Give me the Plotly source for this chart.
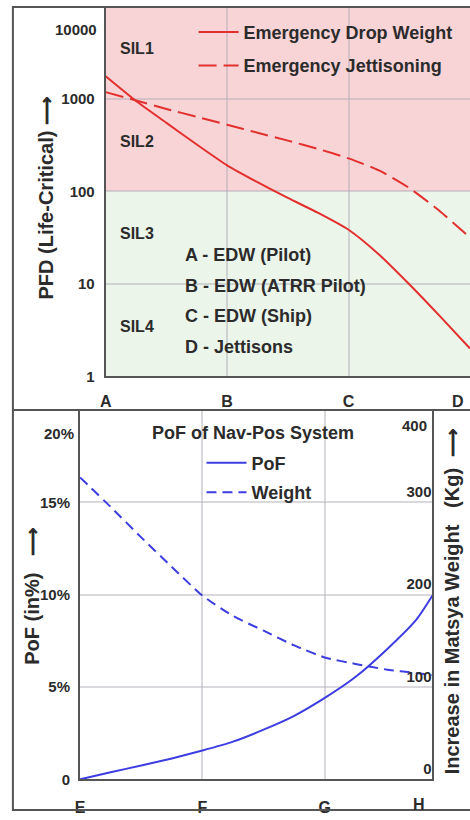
import numpy as np
import plotly.graph_objects as go

W, H = 470, 820
FONT = "Liberation Sans, Arial, sans-serif"
TXT = "#2b2b2b"
AX = "#555555"
GRID = "rgba(170,170,180,0.45)"
RED = "#e3302f"
BLUE = "#3d3de2"
PINK = "#f9d4d7"
GREEN = "#ebf5ea"

# ---------------- data: top chart (PFD, log scale) ----------------
top_x_labels = ["A", "B", "C", "D"]
top_x_ticks = [0, 1, 2, 3]
top_x = [0, 0.25, 0.5, 0.75, 1.0, 1.25, 1.5, 1.75, 2.0, 2.25, 2.5, 2.75, 3.0]
drop_weight = [1764, 952, 553, 322, 192, 126, 85, 58.6, 38.5, 20.8, 9.9, 4.5, 2.0]
jettisoning = [1189, 964, 782, 642, 527, 432, 355, 288, 228, 169, 109, 61.5, 31.6]
top_y_ticks = [1, 10, 100, 1000, 10000]
top_y_text = ["1", "10", "100", "1000", "10000"]
sil_labels = ["SIL1", "SIL2", "SIL3", "SIL4"]
sil_mid = [10 ** 3.5, 10 ** 2.5, 10 ** 1.5, 10 ** 0.5]
sil_boundary = 100
key_lines = ["A - EDW (Pilot)", "B - EDW (ATRR Pilot)", "C - EDW (Ship)", "D - Jettisons"]

# ---------------- data: bottom chart (PoF / weight) ----------------
bot_x_labels = ["E", "F", "G", "H"]
bot_x_ticks = [0, 1, 2, 2.88]
bot_x = [0, 0.25, 0.5, 0.75, 1.0, 1.25, 1.5, 1.75, 2.0, 2.25, 2.5, 2.75, 2.88]
pof = [0, 0.38, 0.75, 1.13, 1.56, 2.04, 2.69, 3.44, 4.41, 5.54, 6.99, 8.66, 9.95]
weight = [327, 295, 262, 230, 199, 177, 161, 145, 132, 125, 119, 115, 113]
pof_ticks = [0, 5, 10, 15, 20]
pof_text = ["0", "5%", "10%", "15%", "20%"]
wt_ticks = [0, 100, 200, 300, 400]
wt_text = ["0", "100", "200", "300", "400"]


def px(x):
    return x / W


def py(y):
    return 1 - y / H


top_log_max = 3.986

fig = go.Figure()

fig.add_trace(go.Scatter(x=top_x, y=drop_weight, mode="lines", name="Emergency Drop Weight",
                         line=dict(color=RED, width=2, shape="spline", smoothing=0.6),
                         xaxis="x", yaxis="y", legend="legend", legendgroup="a"))
fig.add_trace(go.Scatter(x=top_x, y=jettisoning, mode="lines", name="Emergency Jettisoning",
                         line=dict(color=RED, width=2, dash="18px,7px", shape="spline", smoothing=0.6),
                         xaxis="x", yaxis="y", legend="legend", legendgroup="b"))
fig.add_trace(go.Scatter(x=bot_x, y=pof, mode="lines", name="PoF",
                         line=dict(color=BLUE, width=2, shape="spline", smoothing=0.6),
                         xaxis="x2", yaxis="y2", legend="legend2", legendgroup="c"))
fig.add_trace(go.Scatter(x=bot_x, y=weight, mode="lines", name="Weight",
                         line=dict(color=BLUE, width=2, dash="10px,6px", shape="spline", smoothing=0.6),
                         xaxis="x2", yaxis="y3", legend="legend2", legendgroup="d"))

tickfont = dict(family=FONT, size=15, color=TXT, weight="bold")
xtickfont = dict(family=FONT, size=16, color=TXT, weight="bold")

fig.update_layout(
    width=W, height=H, margin=dict(l=0, r=0, t=0, b=0),
    paper_bgcolor="white", plot_bgcolor="rgba(0,0,0,0)",
    showlegend=True,
    xaxis=dict(domain=[px(101), 1.0], range=[0, 3], anchor="y",
               tickvals=top_x_ticks[:3], ticktext=top_x_labels[:3],
               showline=True, linecolor=AX, linewidth=2, showgrid=True, gridcolor=GRID, gridwidth=2,
               zeroline=False, ticks="", tickfont=xtickfont, ticklabelstandoff=10),
    yaxis=dict(domain=[py(380), py(8)], type="log", range=[0, top_log_max], anchor="x",
               tickvals=top_y_ticks[:4], ticktext=top_y_text[:4],
               showline=True, linecolor=AX, linewidth=2, showgrid=True, gridcolor=GRID, gridwidth=2,
               zeroline=False, ticks="", tickfont=tickfont, ticklabelstandoff=6),
    xaxis2=dict(domain=[px(75), px(432)], range=[0, 2.88], anchor="y2",
                tickvals=bot_x_ticks[:3], ticktext=bot_x_labels[:3],
                showline=True, linecolor=AX, linewidth=2, showgrid=True, gridcolor=GRID, gridwidth=2,
                zeroline=False, ticks="", tickfont=xtickfont, ticklabelstandoff=12),
    yaxis2=dict(domain=[py(787), py(414)], range=[0, 20], anchor="x2",
                tickvals=pof_ticks[:4], ticktext=pof_text[:4],
                showline=True, linecolor=AX, linewidth=2, showgrid=True, gridcolor=GRID, gridwidth=2,
                zeroline=False, ticks="", tickfont=tickfont, ticklabelstandoff=5),
    yaxis3=dict(overlaying="y2", side="right", anchor="x2", range=[0, 400],
                tickvals=wt_ticks[:4], ticktext=wt_text[:4], ticklabelposition="inside top",
                showline=True, linecolor=AX, linewidth=2, showgrid=False, zeroline=False,
                ticks="", tickfont=tickfont),
    legend=dict(x=px(190), y=py(14), xanchor="left", yanchor="top", bgcolor="rgba(0,0,0,0)",
                font=dict(family=FONT, size=18, color=TXT, weight="bold"),
                itemwidth=40, tracegroupgap=7),
    legend2=dict(x=px(198), y=py(449), xanchor="left", yanchor="top", bgcolor="rgba(0,0,0,0)",
                 font=dict(family=FONT, size=18, color=TXT, weight="bold"),
                 itemwidth=40, tracegroupgap=3),
)

b = np.log10(sil_boundary) / top_log_max
shapes = [
    dict(type="rect", xref="x domain", yref="y domain", x0=0, x1=1, y0=b, y1=1,
         fillcolor=PINK, line=dict(width=0), layer="below"),
    dict(type="rect", xref="x domain", yref="y domain", x0=0, x1=1, y0=0, y1=b,
         fillcolor=GREEN, line=dict(width=0), layer="below"),
    dict(type="rect", xref="paper", yref="paper", x0=px(7), x1=1.02, y0=py(818), y1=py(7),
         line=dict(color=AX, width=2)),
    dict(type="line", xref="paper", yref="paper", x0=px(7), x1=1.02, y0=py(414), y1=py(414),
         line=dict(color=AX, width=2)),
]
fig.update_layout(shapes=shapes)

ann = []
lblfont = dict(family=FONT, size=16, color=TXT, weight="bold")
bigfont = dict(family=FONT, size=18, color=TXT, weight="bold")
titlefont = dict(family=FONT, size=20, color=TXT, weight="bold")

for t, v in zip(sil_labels, sil_mid):
    ann.append(dict(text=t, xref="x", yref="y", x=0.1, y=np.log10(v), xanchor="left",
                    yanchor="middle", showarrow=False, font=lblfont, yshift=4))
for i, t in enumerate(key_lines):
    ann.append(dict(text=t, xref="paper", yref="paper", x=px(179), y=py(258 + 30.7 * i),
                    xanchor="left", yanchor="middle", showarrow=False, font=bigfont))

# top-edge tick labels pushed inside as in the original
ann.append(dict(text=top_y_text[4], xref="paper", yref="paper", x=px(94), y=py(30),
                xanchor="right", yanchor="middle", showarrow=False, font=tickfont))
ann.append(dict(text=top_x_labels[3], xref="paper", yref="paper", x=px(458), y=py(405),
                xanchor="center", yanchor="middle", showarrow=False, font=xtickfont))
ann.append(dict(text=pof_text[4], xref="paper", yref="paper", x=px(71), y=py(438),
                xanchor="right", yanchor="middle", showarrow=False, font=tickfont))
ann.append(dict(text=wt_text[4], xref="paper", yref="paper", x=px(428), y=py(430),
                xanchor="right", yanchor="middle", showarrow=False, font=tickfont))
ann.append(dict(text=bot_x_labels[3], xref="paper", yref="paper", x=px(418), y=py(812),
                xanchor="center", yanchor="middle", showarrow=False, font=xtickfont))

# legend title of bottom chart
ann.append(dict(text="PoF of Nav-Pos System", xref="paper", yref="paper", x=px(250), y=py(437),
                xanchor="center", yanchor="middle", showarrow=False, font=bigfont))

# axis titles
ann.append(dict(text="PFD (Life-Critical) \u27f6", xref="paper", yref="paper", x=px(41), y=py(200),
                textangle=-90, xanchor="center", yanchor="middle", showarrow=False, font=titlefont))
ann.append(dict(text="PoF (in%)   \u27f6", xref="paper", yref="paper", x=px(26), y=py(602),
                textangle=-90, xanchor="center", yanchor="middle", showarrow=False, font=titlefont))
ann.append(dict(text="Increase in Matsya Weight   (Kg)  \u27f6", xref="paper", yref="paper",
                x=px(452), y=py(607), textangle=-90, xanchor="center", yanchor="middle",
                showarrow=False, font=titlefont))

fig.update_layout(annotations=ann)
fig.write_html("out.html", config={"displayModeBar": False},
               post_script="document.body.style.margin='0';")
